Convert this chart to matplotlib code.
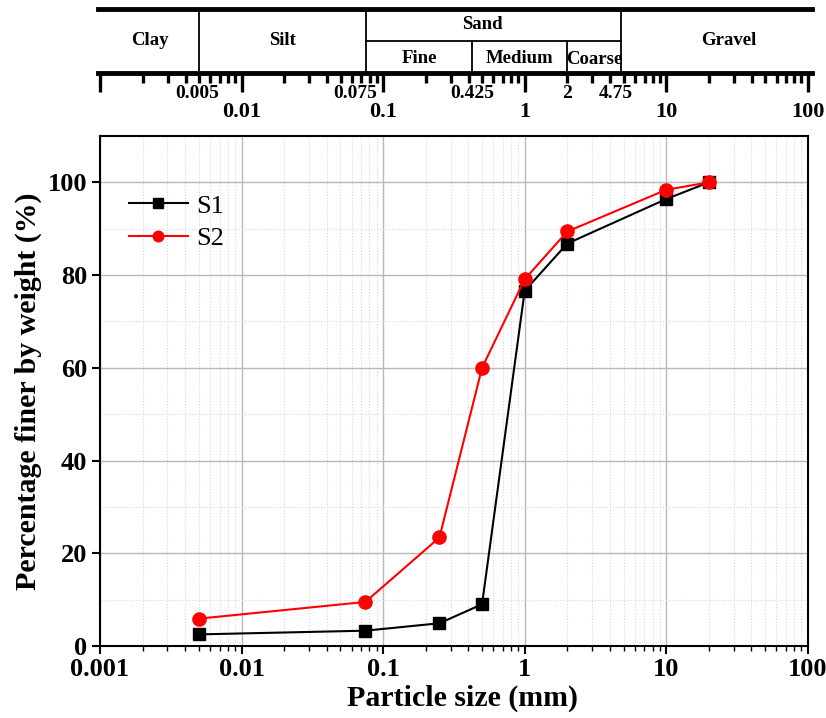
import matplotlib
matplotlib.use('Agg')
import matplotlib.pyplot as plt
import numpy as np

plt.rcParams['font.family'] = ['Liberation Serif', 'DejaVu Serif']

# sieve sizes (mm) and percent passing for the two soils
sizes = [0.005, 0.075, 0.25, 0.5, 1, 2, 10, 20]
s1_passing = [2.5, 3.3, 4.9, 9.0, 76.6, 86.8, 96.4, 100]
s2_passing = [5.9, 9.5, 23.4, 60.0, 79.1, 89.4, 98.4, 100]

# soil classification boundaries (mm)
clay_silt = 0.005
silt_sand = 0.075
fine_medium = 0.425
medium_coarse = 2
sand_gravel = 4.75
boundary_labels = ['0.005', '0.075', '0.425', '2', '4.75']
boundary_shift = [-2, -10, 0, 0, -5]   # pixels, keeps labels off the decade ticks
decade_labels = ['0.01', '0.1', '1', '10', '100']

xmin, xmax = 0.001, 100


def gmean(a, b):
    return np.sqrt(a * b)


def draw_classification(ax):
    ax.set_xscale('log')
    ax.set_xlim(xmin, xmax)
    ax.set_ylim(0, 1)
    for side in ('left', 'right'):
        ax.spines[side].set_visible(False)
    ax.spines['top'].set_linewidth(3.5)
    ax.spines['bottom'].set_linewidth(3.5)
    ax.set_yticks([])
    ax.tick_params(axis='x', which='major', direction='out', length=14,
                   width=2.4, labelbottom=False)
    ax.tick_params(axis='x', which='minor', direction='out', length=7,
                   width=2.4, labelbottom=False)

    for x in (clay_silt, silt_sand, sand_gravel):
        ax.plot([x, x], [0, 1], color='k', lw=1.3)
    for x in (fine_medium, medium_coarse):
        ax.plot([x, x], [0, 0.5], color='k', lw=1.3)
    ax.plot([silt_sand, sand_gravel], [0.5, 0.5], color='k', lw=1.3)

    kw = dict(ha='center', va='center', fontsize=13.5, fontweight='bold')
    ax.text(gmean(xmin, clay_silt), 0.5, 'Clay', **kw)
    ax.text(gmean(clay_silt, silt_sand), 0.5, 'Silt', **kw)
    ax.text(gmean(silt_sand, sand_gravel) * 0.84, 0.75, 'Sand', **kw)
    ax.text(gmean(silt_sand, fine_medium), 0.22, 'Fine', **kw)
    ax.text(gmean(fine_medium, medium_coarse), 0.22, 'Medium', **kw)
    ax.text(gmean(medium_coarse, sand_gravel), 0.2, 'Coarse', **kw)
    ax.text(gmean(sand_gravel, xmax) * 1.27, 0.5, 'Gravel', **kw)

    trans = ax.get_xaxis_transform()
    for lab, dx in zip(boundary_labels, boundary_shift):
        ax.annotate(lab, (float(lab), -0.33), xycoords=trans,
                    xytext=(dx, 0), textcoords='offset pixels',
                    ha='center', va='center', fontsize=14, fontweight='bold')
    for lab in decade_labels:
        ax.text(float(lab), -0.62, lab, transform=trans, ha='center',
                va='center', fontsize=16, fontweight='bold')


fig = plt.figure(figsize=(8.26, 7.18), dpi=100)
ax_top = fig.add_axes([0.119, 0.899, 0.864, 0.089])
draw_classification(ax_top)
# stretch the top band so its x scale lines up with the main axes
ax_top.set_xlim(10 ** (-3 - 2 / 141.6), 10 ** (2 + 4 / 141.6))

ax = fig.add_axes([0.121, 0.1003, 0.857, 0.7103])
ax.plot(sizes, s1_passing, color='k', marker='s', ms=8.5, lw=1.5, label='S1')
ax.plot(sizes, s2_passing, color='red', marker='o', ms=9.5, lw=1.5, label='S2')
ax.set_xscale('log')
ax.set_xlim(xmin, xmax)
ax.set_ylim(0, 110)
ax.set_yticks([0, 20, 40, 60, 80, 100])
ax.set_yticks([10, 30, 50, 70, 90], minor=True)
ax.set_xticks([0.001, 0.01, 0.1, 1, 10, 100])
ax.set_xticklabels(['0.001', '0.01', '0.1', '1', '10', '100'])

ax.grid(which='major', color='#b8b8b8', lw=1.0, ls='-')
ax.grid(which='minor', color='#d6d6d6', lw=0.8, ls=':')
ax.set_axisbelow(True)

for sp in ax.spines.values():
    sp.set_linewidth(1.5)
ax.tick_params(axis='both', which='major', direction='out', length=6,
               width=1.5, labelsize=19, pad=3)
ax.tick_params(axis='x', which='minor', direction='out', length=3.5, width=1)
ax.tick_params(axis='y', which='minor', length=0)
for lab in ax.get_xticklabels() + ax.get_yticklabels():
    lab.set_fontweight('bold')

ax.set_xlabel('Particle size (mm)', fontsize=21.5, fontweight='bold',
              labelpad=2)
ax.xaxis.label.set_x(0.512)
ax.set_ylabel('Percentage finer by weight (%)', fontsize=21.5,
              fontweight='bold', labelpad=4)

ax.legend(loc='upper left', bbox_to_anchor=(0.018, 0.917), frameon=False,
          fontsize=19, handlelength=2.25, handletextpad=0.3, labelspacing=0.35,
          borderaxespad=0.2, markerscale=0.8)

fig.savefig('out.png', dpi=100)
